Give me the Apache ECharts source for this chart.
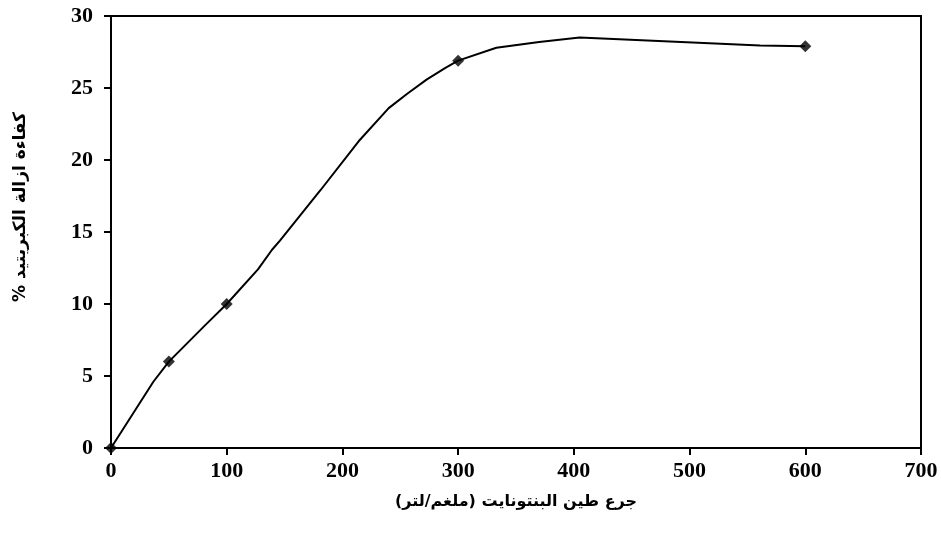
<!DOCTYPE html>
<html><head><meta charset="utf-8">
<script src="https://cdn.jsdelivr.net/npm/echarts@6/dist/echarts.min.js"></script>
<style>html,body{margin:0;padding:0;background:#fff}#c{width:941px;height:542px}</style>
</head><body><div id="c"></div>
<script>
// measured data points (markers)
const doses = [0, 50, 100, 300, 600];
const efficiency = [0, 6, 10, 26.9, 27.9];
// smoothed trend line, vertices
const curveX = [0, 36.6, 50, 81, 100, 127, 139, 146, 181, 214, 240, 256, 273, 289, 300, 333, 370, 405, 561, 600];
const curveY = [0, 4.6, 6, 8.5, 10, 12.4, 13.75, 14.4, 17.9, 21.3, 23.6, 24.6, 25.6, 26.4, 26.9, 27.8, 28.2, 28.5, 27.95, 27.9];
const xTicks = [0, 100, 200, 300, 400, 500, 600, 700];
const yTicks = [0, 5, 10, 15, 20, 25, 30];
const xTitle = '\u202Bجرع طين البنتونايت (ملغم/لتر)\u202C';
const yTitle = '\u202Bكفاءة ازالة الكبريتيد %\u202C';

const chart = echarts.init(document.getElementById('c'), null, {renderer: 'canvas'});
const tickFont = {fontFamily: '"Liberation Serif", "Times New Roman", serif', fontWeight: 'bold', fontSize: 22, color: '#000'};
const titleFont = {fontFamily: '"DejaVu Sans", "Noto Sans", sans-serif', fontWeight: 'bold', fontSize: 16, color: '#000'};
chart.setOption({
  animation: false,
  backgroundColor: '#fff',
  grid: {left: 111, right: 20, top: 16, bottom: 94, show: true, borderColor: '#000', borderWidth: 2, containLabel: false},
  xAxis: {
    type: 'value', min: xTicks[0], max: xTicks[xTicks.length - 1], interval: xTicks[1] - xTicks[0],
    name: xTitle, nameLocation: 'middle', nameGap: 46, nameTextStyle: titleFont,
    axisLine: {show: true, onZero: false, lineStyle: {color: '#000', width: 2}},
    axisTick: {show: true, inside: false, length: 7, lineStyle: {color: '#000', width: 2}},
    axisLabel: Object.assign({margin: 12}, tickFont),
    splitLine: {show: false}
  },
  yAxis: {
    type: 'value', min: yTicks[0], max: yTicks[yTicks.length - 1], interval: yTicks[1] - yTicks[0],
    name: yTitle, nameLocation: 'middle', nameGap: 82, nameRotate: 90,
    nameTextStyle: Object.assign({}, titleFont, {fontSize: 17, padding: [0, 0, 0, 50]}),
    axisLine: {show: true, onZero: false, lineStyle: {color: '#000', width: 2}},
    axisTick: {show: true, inside: false, length: 7, lineStyle: {color: '#000', width: 2}},
    axisLabel: Object.assign({margin: 18}, tickFont),
    splitLine: {show: false}
  },
  series: [{
    type: 'line',
    data: curveX.map((x, i) => [x, curveY[i]]),
    showSymbol: false, symbol: 'none',
    lineStyle: {color: '#000', width: 2},
    z: 2
  }, {
    type: 'scatter',
    data: doses.map((d, i) => [d, efficiency[i]]),
    symbol: 'diamond', symbolSize: 12,
    itemStyle: {color: '#000'},
    z: 3
  }]
});
</script></body></html>
